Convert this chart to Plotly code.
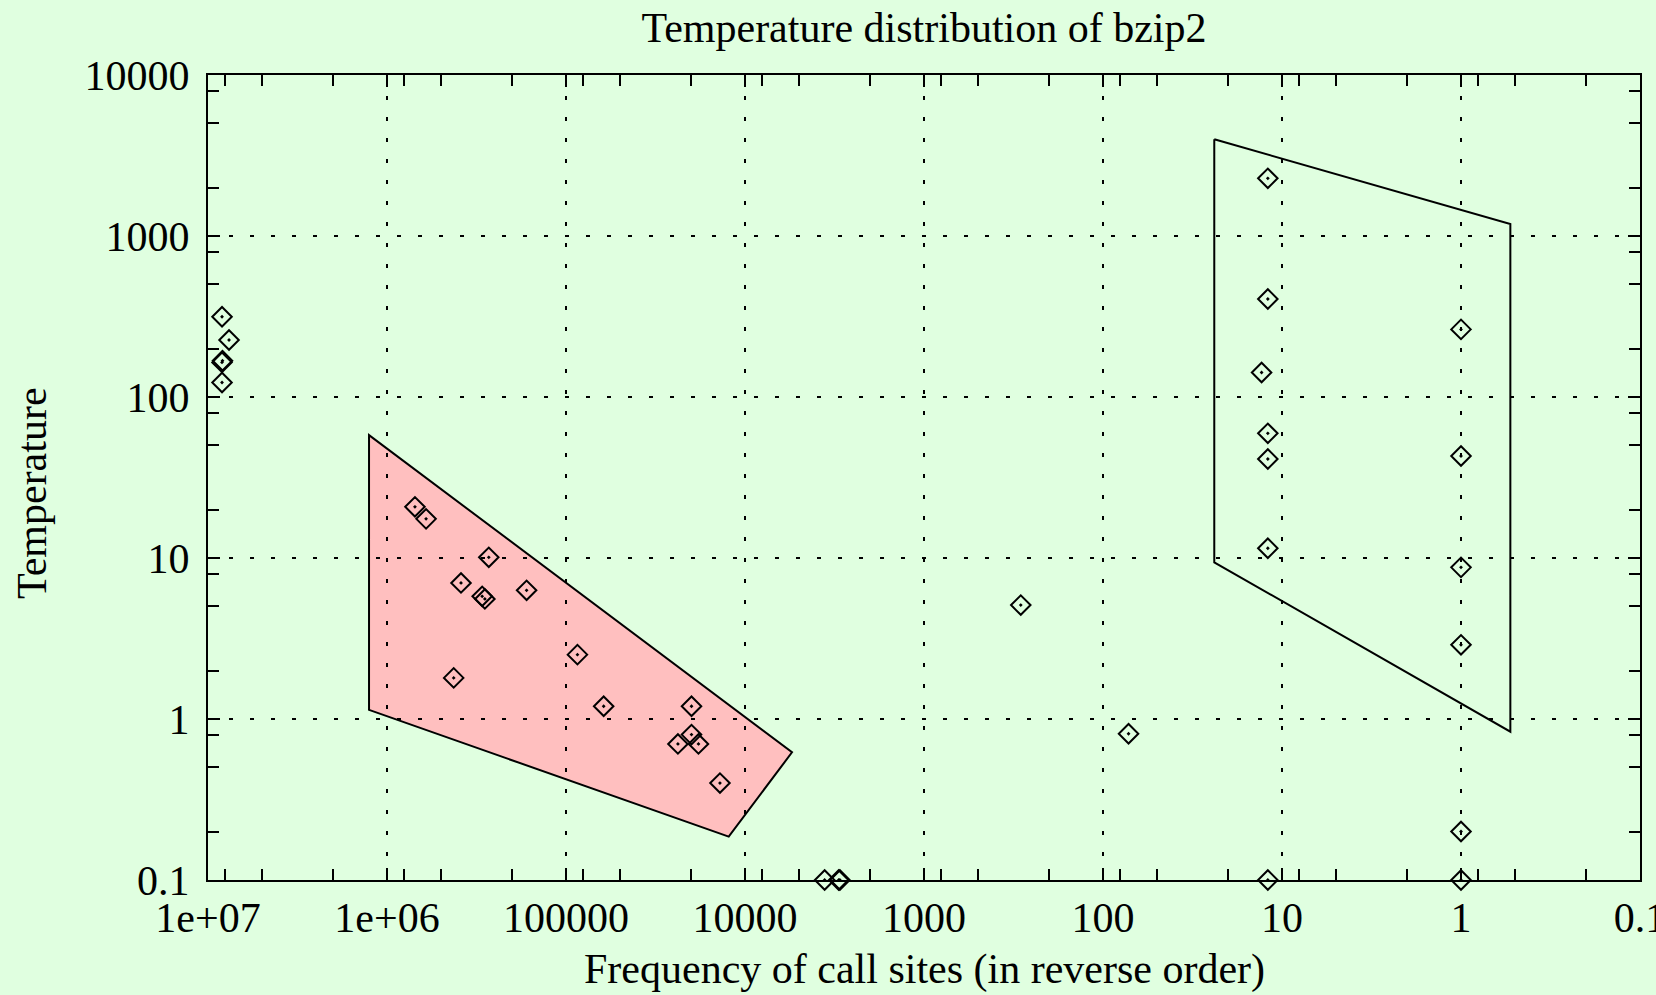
import numpy as np
import plotly.graph_objects as go

# ---- data ----
freq = [8.35e6, 7.63e6, 8.35e6, 8.30e6, 8.35e6,
        6.98e5, 6.05e5, 2.70e5, 3.86e5, 2.94e5, 2.84e5, 1.66e5, 4.24e5,
        8.63e4, 6.16e4, 1.99e4, 1.99e4, 2.37e4, 1.82e4, 1.38e4,
        3590, 2996, 2950,
        288, 72,
        12, 12, 13, 12, 12, 12, 12,
        1, 1, 1, 1, 1, 1]
temp = [315, 226, 164, 168, 123,
        20.8, 17.5, 10.1, 7.0, 5.78, 5.57, 6.30, 1.80,
        2.51, 1.20, 1.20, 0.80, 0.70, 0.70, 0.40,
        0.1, 0.1, 0.1,
        5.1, 0.81,
        2282, 406, 142, 59.5, 41.2, 11.5, 0.1,
        263, 43, 8.75, 2.89, 0.2, 0.1]

pink_x = [1.26e6, 5463, 1.233e4, 1.26e6]
pink_y = [58.0, 0.621, 0.186, 1.14]

box_x = [23.9, 0.53, 0.53, 23.9]
box_y = [3987, 1187, 0.834, 9.40]

x_tick_vals = [1e7, 1e6, 1e5, 1e4, 1e3, 1e2, 1e1, 1, 0.1]
x_tick_text = ["1e+07", "1e+06", "100000", "10000", "1000", "100", "10", "1", "0.1"]
y_tick_vals = [0.1, 1, 10, 100, 1000, 10000]
y_tick_text = ["0.1", "1", "10", "100", "1000", "10000"]
minor_mult = [2, 5, 8]

BG = "#E0FFE0"
PINK = "#FFBFBF"
FONT = "Liberation Serif"
FS = 42

x_minor = [m * 10.0 ** e for e in range(-1, 7) for m in minor_mult]
y_minor = [m * 10.0 ** e for e in range(-1, 4) for m in minor_mult]

fig = go.Figure()

path = "M " + " L ".join(f"{x},{y}" for x, y in zip(pink_x, pink_y)) + " Z"
fig.add_shape(type="path", path=path, xref="x", yref="y",
              fillcolor=PINK, line=dict(color="black", width=2), layer="below")

fig.add_trace(go.Scatter(x=box_x + [box_x[0]], y=box_y + [box_y[0]], mode="lines",
                         line=dict(color="black", width=2), hoverinfo="skip",
                         showlegend=False))

fig.add_trace(go.Scatter(x=freq, y=temp, mode="markers",
                         marker=dict(symbol="diamond-open-dot", size=15, color="black",
                                     line=dict(width=2, color="black")),
                         cliponaxis=False, showlegend=False))


def axis(vals, text, minor_vals, rng, standoff):
    return dict(type="log", autorange=False, range=rng, automargin=False,
                showline=True, linecolor="black", linewidth=2, mirror="ticks",
                ticks="inside", ticklen=12, tickwidth=2, tickcolor="black",
                showgrid=True, gridcolor="black", gridwidth=2, griddash="4px,17px",
                zeroline=False, tickmode="array", tickvals=vals, ticktext=text,
                ticklabeloverflow="allow", ticklabelstandoff=standoff,
                tickfont=dict(family=FONT, size=FS, color="black"),
                minor=dict(tickmode="array", tickvals=minor_vals, ticks="inside",
                           ticklen=11, tickwidth=2, tickcolor="black", showgrid=False))


fig.update_layout(
    width=1656, height=995,
    margin=dict(l=208, r=16, t=75, b=115, autoexpand=False),
    paper_bgcolor=BG, plot_bgcolor=BG,
    font=dict(family=FONT, size=FS, color="black"),
    xaxis=axis(x_tick_vals, x_tick_text, x_minor, [7, -1], 0),
    yaxis=axis(y_tick_vals, y_tick_text, y_minor, [-1, 4], 8),
    title=dict(text="Temperature distribution of bzip2", x=0.5, xref="paper",
               xanchor="center", y=1 - 27.5 / 995, yref="container", yanchor="middle",
               font=dict(family=FONT, size=FS, color="black")),
    showlegend=False,
)

fig.add_annotation(text="Frequency of call sites (in reverse order)", xref="paper", yref="paper",
                   x=0.5, y=-0.1106, xanchor="center", yanchor="middle", showarrow=False,
                   font=dict(family=FONT, size=FS, color="black"))
fig.add_annotation(text="Temperature", xref="paper", yref="paper",
                   x=-0.1229, y=0.4807, xanchor="center", yanchor="middle", showarrow=False,
                   textangle=-90, font=dict(family=FONT, size=FS, color="black"))

fig.write_html("out.html", config={"displayModeBar": False},
               post_script="document.body.style.margin='0';document.body.style.padding='0';"
                           "document.body.style.overflow='hidden';")
